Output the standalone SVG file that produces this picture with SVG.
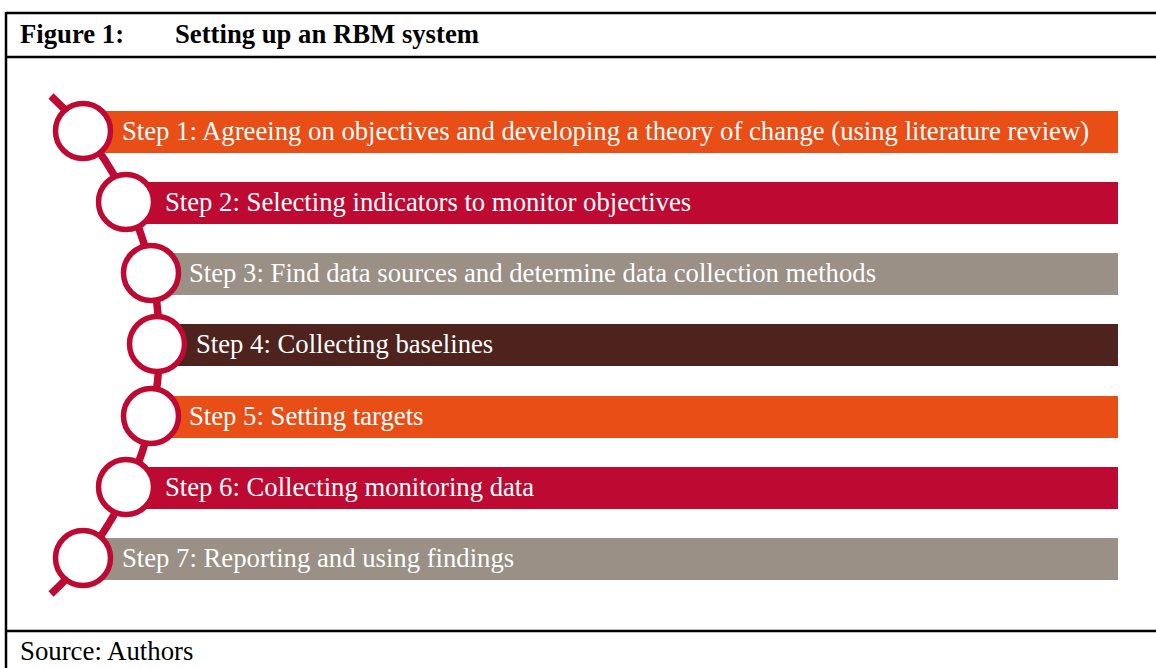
<svg xmlns="http://www.w3.org/2000/svg" width="1156" height="668" viewBox="0 0 1156 668">
<style>
.frame{fill:none;stroke:#000;stroke-width:2.5}
.title{font-family:"Liberation Serif","Times New Roman",serif;font-weight:bold;font-size:26.7px;fill:#000}
.src{font-family:"Liberation Serif","Times New Roman",serif;font-size:26.8px;fill:#000}
.lbl{font-family:"Liberation Serif","Times New Roman",serif;font-size:26.7px;fill:#fff}
.ring{fill:#fff;stroke:#BE0A32;stroke-width:5.5}
.spine{fill:none;stroke:#BE0A32;stroke-width:7.5}
.orange{fill:#E84E16}
.crimson{fill:#BE0A32}
.grey{fill:#9A9085}
.brown{fill:#4E221D}
</style>
<rect width="1156" height="668" fill="#fff"/>
<g id="frame">
<line class="frame" x1="6" y1="13" x2="1156" y2="13"/>
<line class="frame" x1="6" y1="12" x2="6" y2="668"/>
<line class="frame" x1="6" y1="57" x2="1156" y2="57"/>
<line class="frame" x1="6" y1="631" x2="1156" y2="631"/>
<text class="title" x="20" y="43">Figure 1:</text>
<text class="title" x="175" y="43">Setting up an RBM system</text>
<text class="src" x="20" y="660">Source: Authors</text>
</g>
<g id="connectors">
<path class="spine" d="M 51 96 A 340 340 0 0 1 51 594"/>
</g>
<g id="step1">
<rect class="orange" x="83" y="111" width="1035" height="42"/>
<circle class="ring" cx="83" cy="131" r="27.5"/>
<text class="lbl" x="122" y="140">Step 1: Agreeing on objectives and developing a theory of change (using literature review)</text>
</g>
<g id="step2">
<rect class="crimson" x="126" y="182" width="992" height="42"/>
<circle class="ring" cx="126" cy="202" r="27.5"/>
<text class="lbl" x="165" y="211">Step 2: Selecting indicators to monitor objectives</text>
</g>
<g id="step3">
<rect class="grey" x="151" y="253" width="967" height="42"/>
<circle class="ring" cx="151" cy="273" r="27.5"/>
<text class="lbl" x="189" y="282">Step 3: Find data sources and determine data collection methods</text>
</g>
<g id="step4">
<rect class="brown" x="157" y="324" width="961" height="42"/>
<circle class="ring" cx="157" cy="344" r="27.5"/>
<text class="lbl" x="196" y="353">Step 4: Collecting baselines</text>
</g>
<g id="step5">
<rect class="orange" x="151" y="396" width="967" height="42"/>
<circle class="ring" cx="151" cy="416" r="27.5"/>
<text class="lbl" x="189" y="425">Step 5: Setting targets</text>
</g>
<g id="step6">
<rect class="crimson" x="126" y="467" width="992" height="42"/>
<circle class="ring" cx="126" cy="487" r="27.5"/>
<text class="lbl" x="165" y="496">Step 6: Collecting monitoring data</text>
</g>
<g id="step7">
<rect class="grey" x="83" y="538" width="1035" height="42"/>
<circle class="ring" cx="83" cy="558" r="27.5"/>
<text class="lbl" x="122" y="567">Step 7: Reporting and using findings</text>
</g>
</svg>
